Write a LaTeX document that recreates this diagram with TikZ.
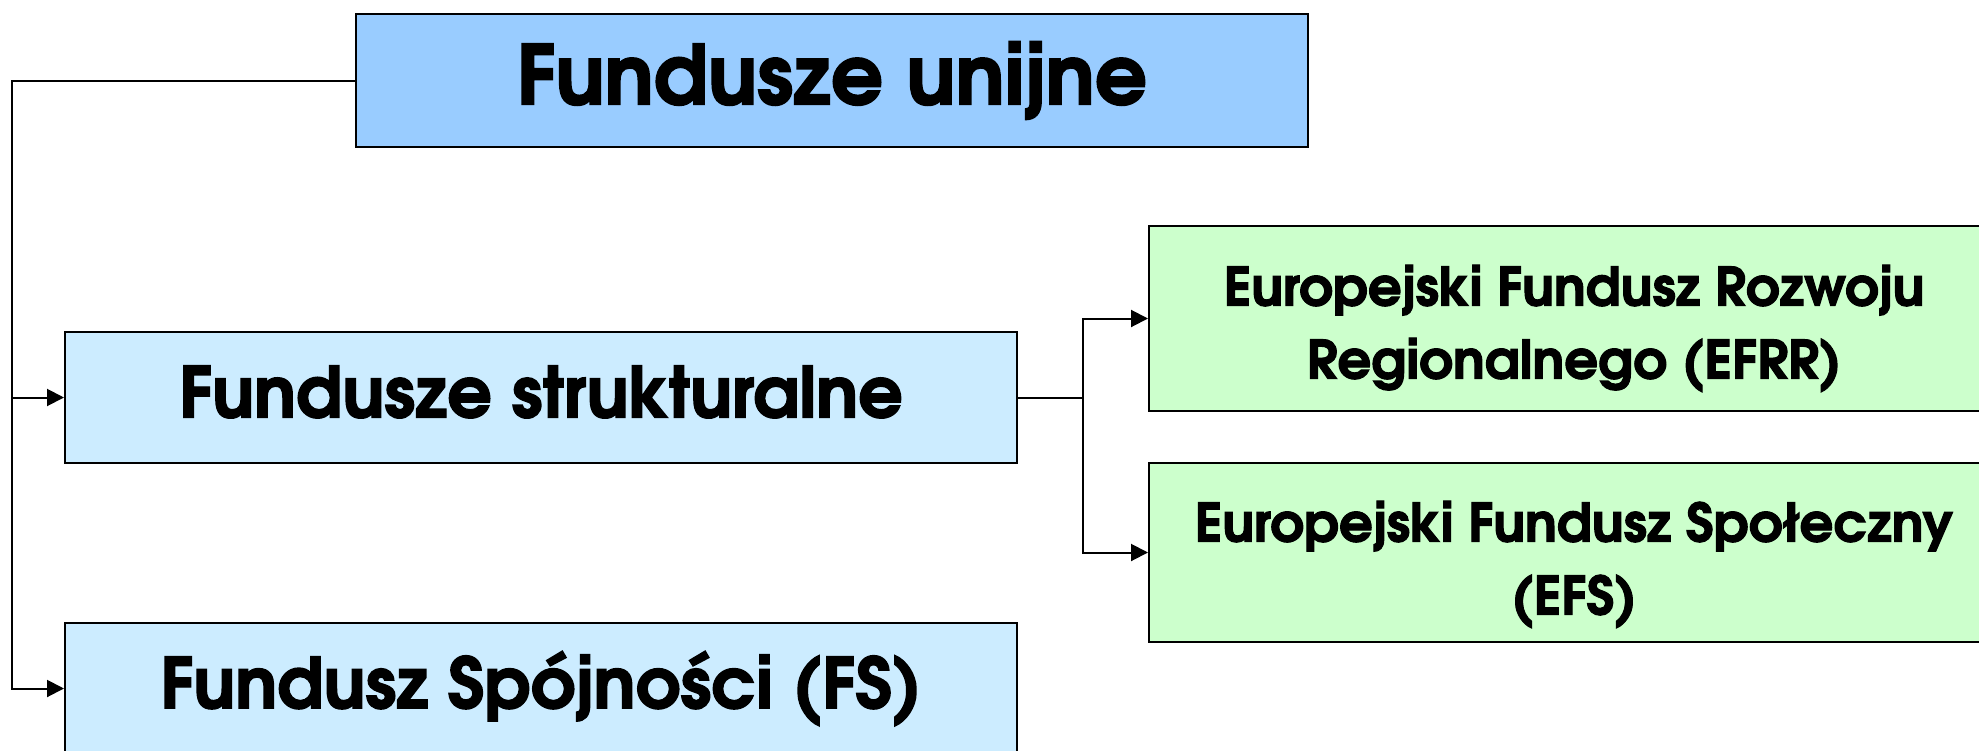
\documentclass[tikz,border=0pt]{standalone}
\usepackage{fontspec}
\setmainfont{texgyreadventor}[Extension=.otf,UprightFont=*-regular,BoldFont=*-bold,ItalicFont=*-italic,BoldItalicFont=*-bolditalic,BoldFeatures={FakeBold=2}]
\usetikzlibrary{arrows.meta}
\definecolor{topblue}{HTML}{99CCFF}
\definecolor{lightblue}{HTML}{CCECFF}
\definecolor{lightgreen}{HTML}{CCFFCC}
\tikzset{
  boxbase/.style={draw=black, line width=2pt, rectangle, inner sep=0pt, align=center, text=black},
  topbox/.style={boxbase, fill=topblue, minimum width=952pt, minimum height=133pt, font=\bfseries\fontsize{82}{90}\selectfont},
  midbox/.style={boxbase, fill=lightblue, minimum width=952pt, minimum height=131pt, font=\bfseries\fontsize{70}{80}\selectfont},
  greenbox/.style={boxbase, fill=lightgreen, minimum width=850pt},
  greentext/.style={inner sep=0pt, align=center, text=black, font=\bfseries\fontsize{53}{73}\selectfont},
  conn/.style={draw=black, line width=2pt},
  arr/.style={conn, -{Triangle[length=17pt,width=17pt]}}
}
\begin{document}
\begin{tikzpicture}[x=1pt,y=-1pt]
\useasboundingbox[fill=white] (0,0) rectangle (1979,750);
\node[topbox] (top) at (832,80.5) {Fundusze unijne};
\node[midbox] (s) at (541,397.5) {\raisebox{12pt}{Fundusze strukturalne}};
\node[midbox] (fs) at (541,688.5) {\raisebox{12pt}{Fundusz Spójności (FS)}};
\node[greenbox, minimum height=185pt] (efrr) at (1574,318.5) {};
\node[greentext] (efrrt) at ([yshift=-10pt]efrr.center) {Europejski Fundusz Rozwoju\\Regionalnego (EFRR)};
\node[greenbox, minimum height=179pt] (efs) at (1574,552.5) {};
\node[greentext] (efst) at ([yshift=-12pt]efs.center) {Europejski Fundusz Społeczny\\(EFS)};
\coordinate (busL) at (12,80.5);
\coordinate (busR) at (1083,397.5);
\draw[arr] (top.west) -- (busL) |- (fs.west);
\draw[arr] (busL |- s.west) -- (s.west);
\draw[conn] (s.east) -- (busR);
\draw[arr] (busR) |- (efrr.west);
\draw[arr] (busR) |- (efs.west);
\end{tikzpicture}
\end{document}
